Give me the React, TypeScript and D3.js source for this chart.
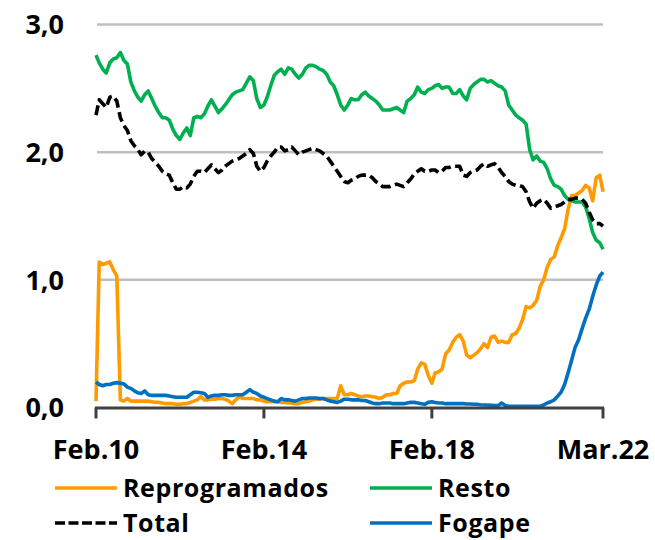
import React from "react";
import * as d3 from "d3";

const months: Date[] = d3.utcMonth.range(new Date(Date.UTC(2010, 1, 1)), new Date(Date.UTC(2022, 3, 1)));

const tickDates = [new Date(Date.UTC(2010, 1, 1)), new Date(Date.UTC(2014, 1, 1)), new Date(Date.UTC(2018, 1, 1)), new Date(Date.UTC(2022, 2, 1))];
const tickLabels = ["Feb.10", "Feb.14", "Feb.18", "Mar.22"];
const yTicks = [0, 1, 2, 3];
const yTickLabels = ["0,0", "1,0", "2,0", "3,0"];

const reprogramados = [
  0.05, 1.14, 1.12, 1.13, 1.14, 1.08, 1.03, 0.06, 0.05, 0.07,
  0.05, 0.05, 0.05, 0.05, 0.05, 0.05, 0.045, 0.04, 0.04, 0.035,
  0.03, 0.03, 0.03, 0.025, 0.025, 0.03, 0.03, 0.04, 0.05, 0.06,
  0.085, 0.06, 0.06, 0.065, 0.065, 0.07, 0.07, 0.065, 0.05, 0.03,
  0.06, 0.085, 0.07, 0.07, 0.07, 0.07, 0.06, 0.06, 0.05, 0.045,
  0.045, 0.045, 0.045, 0.04, 0.04, 0.035, 0.035, 0.03, 0.03, 0.04,
  0.045, 0.05, 0.06, 0.065, 0.065, 0.07, 0.07, 0.07, 0.07, 0.07,
  0.17, 0.10, 0.10, 0.11, 0.10, 0.09, 0.085, 0.09, 0.09, 0.085,
  0.08, 0.07, 0.08, 0.10, 0.10, 0.11, 0.11, 0.17, 0.19, 0.20,
  0.20, 0.21, 0.30, 0.35, 0.34, 0.25, 0.19, 0.27, 0.28, 0.30,
  0.42, 0.45, 0.51, 0.55, 0.57, 0.52, 0.41, 0.39, 0.41, 0.43,
  0.46, 0.50, 0.47, 0.55, 0.56, 0.51, 0.52, 0.51, 0.51, 0.57,
  0.58, 0.62, 0.69, 0.79, 0.78, 0.80, 0.84, 0.95, 1.00, 1.10,
  1.16, 1.18, 1.27, 1.33, 1.40, 1.55, 1.66, 1.66, 1.68, 1.70,
  1.74, 1.72, 1.62, 1.80, 1.82, 1.69,
];

const resto = [
  2.76, 2.70, 2.65, 2.62, 2.70, 2.73, 2.74, 2.78, 2.72, 2.69,
  2.55, 2.48, 2.43, 2.40, 2.45, 2.48, 2.42, 2.36, 2.31, 2.27,
  2.27, 2.25, 2.18, 2.13, 2.10, 2.15, 2.19, 2.13, 2.27, 2.28,
  2.27, 2.30, 2.36, 2.41, 2.36, 2.31, 2.34, 2.37, 2.41, 2.45,
  2.47, 2.48, 2.49, 2.54, 2.59, 2.56, 2.42, 2.35, 2.37, 2.43,
  2.52, 2.60, 2.63, 2.65, 2.61, 2.66, 2.65, 2.61, 2.58, 2.61,
  2.66, 2.68, 2.68, 2.67, 2.65, 2.64, 2.61, 2.55, 2.52, 2.45,
  2.37, 2.33, 2.37, 2.42, 2.41, 2.41, 2.45, 2.47, 2.44, 2.42,
  2.40, 2.37, 2.33, 2.33, 2.33, 2.34, 2.35, 2.33, 2.31, 2.40,
  2.42, 2.45, 2.51, 2.47, 2.46, 2.49, 2.50, 2.52, 2.53, 2.50,
  2.51, 2.51, 2.46, 2.46, 2.49, 2.44, 2.41, 2.50, 2.53, 2.55,
  2.57, 2.57, 2.55, 2.56, 2.54, 2.52, 2.51, 2.48, 2.37, 2.33,
  2.29, 2.27, 2.25, 2.22, 2.02, 1.94, 1.97, 1.93, 1.92, 1.87,
  1.79, 1.74, 1.73, 1.71, 1.66, 1.63, 1.62, 1.61, 1.61, 1.61,
  1.57, 1.48, 1.37, 1.31, 1.29, 1.24,
];

const total = [
  2.29, 2.41, 2.38, 2.35, 2.43, 2.44, 2.40, 2.27, 2.21, 2.17,
  2.09, 2.05, 2.02, 1.98, 2.01, 2.00, 1.95, 1.92, 1.89, 1.85,
  1.83, 1.82, 1.76, 1.71, 1.71, 1.73, 1.72, 1.75, 1.81, 1.85,
  1.85, 1.84, 1.87, 1.90, 1.87, 1.84, 1.86, 1.89, 1.91, 1.93,
  1.94, 1.95, 1.97, 1.99, 2.02, 1.99, 1.89, 1.85, 1.88, 1.93,
  1.97, 2.00, 2.04, 2.04, 2.01, 2.02, 2.04, 2.01, 1.98, 2.00,
  2.01, 2.02, 2.03, 2.02, 2.01, 1.99, 1.97, 1.93, 1.89, 1.85,
  1.81, 1.77, 1.76, 1.78, 1.79, 1.81, 1.82, 1.82, 1.82, 1.80,
  1.77, 1.75, 1.73, 1.73, 1.73, 1.74, 1.75, 1.74, 1.73, 1.76,
  1.79, 1.83, 1.85, 1.87, 1.85, 1.85, 1.86, 1.86, 1.84, 1.85,
  1.88, 1.88, 1.89, 1.89, 1.89, 1.82, 1.81, 1.84, 1.85, 1.86,
  1.89, 1.91, 1.89, 1.90, 1.91, 1.88, 1.84, 1.81, 1.77, 1.75,
  1.74, 1.74, 1.73, 1.69, 1.61, 1.56, 1.60, 1.62, 1.63, 1.60,
  1.56, 1.57, 1.58, 1.59, 1.61, 1.63, 1.63, 1.64, 1.64, 1.63,
  1.60, 1.53, 1.47, 1.44, 1.44, 1.42,
];

const fogape = [
  0.20, 0.18, 0.17, 0.18, 0.18, 0.19, 0.195, 0.19, 0.185, 0.16,
  0.15, 0.13, 0.115, 0.11, 0.13, 0.10, 0.095, 0.095, 0.095, 0.095,
  0.095, 0.09, 0.085, 0.08, 0.08, 0.08, 0.08, 0.10, 0.12, 0.12,
  0.115, 0.11, 0.08, 0.09, 0.095, 0.095, 0.10, 0.10, 0.095, 0.095,
  0.10, 0.10, 0.10, 0.12, 0.14, 0.12, 0.11, 0.09, 0.08, 0.07,
  0.06, 0.05, 0.045, 0.07, 0.06, 0.06, 0.055, 0.05, 0.06, 0.07,
  0.07, 0.075, 0.075, 0.075, 0.07, 0.07, 0.06, 0.05, 0.045, 0.04,
  0.05, 0.065, 0.065, 0.06, 0.06, 0.06, 0.055, 0.055, 0.045, 0.035,
  0.03, 0.03, 0.035, 0.035, 0.035, 0.03, 0.03, 0.03, 0.03, 0.035,
  0.04, 0.04, 0.035, 0.03, 0.025, 0.04, 0.045, 0.04, 0.035, 0.035,
  0.03, 0.03, 0.03, 0.03, 0.03, 0.03, 0.028, 0.028, 0.025, 0.025,
  0.022, 0.02, 0.02, 0.018, 0.015, 0.015, 0.035, 0.015, 0.01, 0.01,
  0.01, 0.01, 0.01, 0.01, 0.01, 0.01, 0.01, 0.01, 0.02, 0.035,
  0.045, 0.06, 0.09, 0.12, 0.18, 0.27, 0.37, 0.47, 0.53, 0.62,
  0.70, 0.77, 0.87, 0.96, 1.03, 1.06,
];

const FONT = "'Open Sans', 'Liberation Sans', sans-serif";
const ORANGE = "#FF9A00";
const GREEN = "#00B050";
const BLUE = "#0070C0";
const BLACK = "#000000";

export default function App() {
  const W = 655;
  const H = 540;
  const x = d3.scaleUtc().domain([months[0], months[months.length - 1]]).range([96, 603]);
  const y = d3.scaleLinear().domain([0, 3]).range([407.5, 24.5]);

  const line = d3
    .line<number>()
    .x((_, i) => x(months[i]))
    .y((d) => y(d));

  const series = [
    { name: "Reprogramados", values: reprogramados, color: ORANGE, dash: undefined as string | undefined },
    { name: "Resto", values: resto, color: GREEN, dash: undefined },
    { name: "Fogape", values: fogape, color: BLUE, dash: undefined },
    { name: "Total", values: total, color: BLACK, dash: "10,4.5" },
  ];

  const legend = [
    { name: "Reprogramados", color: ORANGE, dash: undefined as string | undefined, lx: 55, ly: 488 },
    { name: "Resto", color: GREEN, dash: undefined, lx: 370, ly: 488 },
    { name: "Total", color: BLACK, dash: "10,3.5", lx: 55, ly: 523 },
    { name: "Fogape", color: BLUE, dash: undefined, lx: 370, ly: 523 },
  ];

  return (
    <svg width={W} height={H} style={{ position: "absolute", left: 0, top: 0, background: "#fff" }} fontFamily={FONT}>
      {yTicks.slice(1).map((t) => (
        <line key={"g" + t} x1={97} x2={603} y1={y(t)} y2={y(t)} stroke="#BFBFBF" strokeWidth={2.5} />
      ))}
      {yTicks.map((t, i) => (
        <text key={"yl" + t} x={64} y={y(t)} dy="0.36em" textAnchor="end" fontSize={27} fontWeight={700} fill="#000">
          {yTickLabels[i]}
        </text>
      ))}
      {series.map((s) => (
        <path
          key={s.name}
          d={line(s.values) || ""}
          fill="none"
          stroke={s.color}
          strokeWidth={3.6}
          strokeLinejoin="round"
          strokeDasharray={s.dash}
        />
      ))}
      <line x1={95} x2={604} y1={y(0) + 0.5} y2={y(0) + 0.5} stroke="#404040" strokeWidth={3} />
      {tickDates.map((d, i) => (
        <g key={"xt" + i}>
          <line x1={x(d)} x2={x(d)} y1={y(0)} y2={y(0) + 11} stroke="#404040" strokeWidth={3} />
          <text x={x(d)} y={459} textAnchor="middle" fontSize={27} fontWeight={700} fill="#000">
            {tickLabels[i]}
          </text>
        </g>
      ))}
      {legend.map((l) => (
        <g key={"lg" + l.name}>
          <line x1={l.lx} x2={l.lx + 62} y1={l.ly} y2={l.ly} stroke={l.color} strokeWidth={3.6} strokeDasharray={l.dash} />
          <text x={l.lx + 68} y={l.ly} dy="0.36em" fontSize={25} fontWeight={700} letterSpacing={0.6} fill="#000">
            {l.name}
          </text>
        </g>
      ))}
    </svg>
  );
}
